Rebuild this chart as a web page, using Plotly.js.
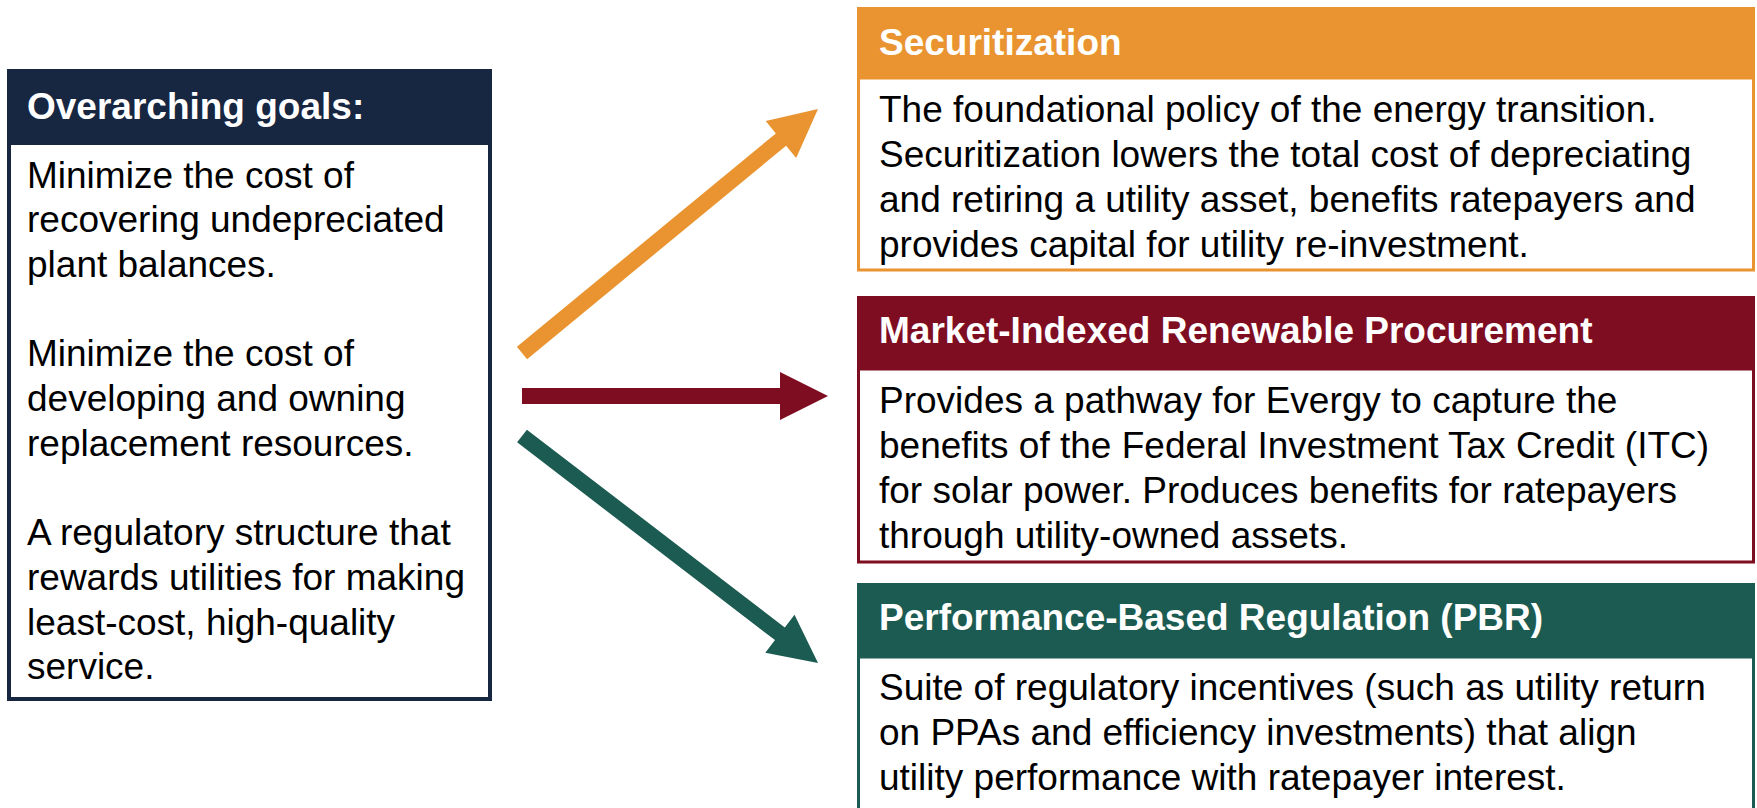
<!DOCTYPE html>
<html>
<head>
<meta charset="utf-8">
<script src="https://cdn.plot.ly/plotly-3.0.1.min.js"></script>
<style>html,body{margin:0;padding:0;background:#fff;}#chart{width:1757px;height:808px;}</style>
</head>
<body>
<div id="chart"></div>
<script>
// ---- content ----
const leftTitle = "Overarching goals:";
const leftLines = [
  "Minimize the cost of",
  "recovering undepreciated",
  "plant balances.",
  "",
  "Minimize the cost of",
  "developing and owning",
  "replacement resources.",
  "",
  "A regulatory structure that",
  "rewards utilities for making",
  "least-cost, high-quality",
  "service."
];
const boxTitles = [
  "Securitization",
  "Market-Indexed Renewable Procurement",
  "Performance-Based Regulation (PBR)"
];
const boxLines1 = [
  "The foundational policy of the energy transition.",
  "Securitization lowers the total cost of depreciating",
  "and retiring a utility asset, benefits ratepayers and",
  "provides capital for utility re-investment."
];
const boxLines2 = [
  "Provides a pathway for Evergy to capture the",
  "benefits of the Federal Investment Tax Credit (ITC)",
  "for solar power. Produces benefits for ratepayers",
  "through utility-owned assets."
];
const boxLines3 = [
  "Suite of regulatory incentives (such as utility return",
  "on PPAs and efficiency investments) that align",
  "utility performance with ratepayer interest."
];
const boxLines = [boxLines1, boxLines2, boxLines3];

// ---- styles / layout geometry ----
const navy = "#172641";
const boxColors = ["#E99430", "#7F0D21", "#1B5B51"];
const FONT = "Liberation Sans, Arial, sans-serif";
const FS = 37;
const W = 1757, H = 808;

const shapes = [];
const annotations = [];

function rect(x0, y0, x1, y1, fill, lineColor, lw) {
  shapes.push({type: "rect", xref: "x", yref: "y", x0, y0, x1, y1,
    fillcolor: fill, line: {color: lineColor || fill, width: lw || 0}, layer: "below"});
}
function text(t, x, baseline, bold, color) {
  if (!t) return;
  annotations.push({text: bold ? "<b>" + t + "</b>" : t, x: x, y: baseline - 0.35 * FS,
    xref: "x", yref: "y", xanchor: "left", yanchor: "middle", showarrow: false,
    borderpad: 0, font: {family: FONT, size: FS, color: color}});
}
function arrow(x0, y0, x1, y1, color) {
  const shaft = 16, headLen = 48, headW = 48;
  const dx = x1 - x0, dy = y1 - y0, L = Math.hypot(dx, dy);
  const ux = dx / L, uy = dy / L, px = -uy, py = ux;
  const bx = x1 - ux * headLen, by = y1 - uy * headLen;
  const pts = [
    [x0 + px * shaft / 2, y0 + py * shaft / 2],
    [bx + px * shaft / 2, by + py * shaft / 2],
    [bx + px * headW / 2, by + py * headW / 2],
    [x1, y1],
    [bx - px * headW / 2, by - py * headW / 2],
    [bx - px * shaft / 2, by - py * shaft / 2],
    [x0 - px * shaft / 2, y0 - py * shaft / 2]
  ];
  const path = "M " + pts.map(p => p[0].toFixed(1) + "," + p[1].toFixed(1)).join(" L ") + " Z";
  shapes.push({type: "path", xref: "x", yref: "y", path: path, fillcolor: color,
    line: {width: 0, color: color}, layer: "above"});
}

// left box
rect(9, 143, 490, 699, "#ffffff", navy, 4);
rect(7, 69, 492, 143, navy);
text(leftTitle, 26, 119, true, "#ffffff");
leftLines.forEach((l, i) => text(l, 26, 188 + i * 44.7, false, "#000000"));

// right boxes
const hdrTop = [7, 296, 583], hdrBot = [78, 369, 657], bodyBot = [270, 562, 840];
const hdrBase = [55, 343, 630], bodyBase = [122, 413, 700];
boxTitles.forEach((t, k) => {
  rect(858.5, hdrBot[k], 1753.5, bodyBot[k], "#ffffff", boxColors[k], 3);
  rect(857, hdrTop[k], 1755, hdrBot[k], boxColors[k]);
  text(t, 878, hdrBase[k], true, "#ffffff");
  boxLines[k].forEach((l, i) => text(l, 878, bodyBase[k] + i * 45, false, "#000000"));
});

// arrows
arrow(522, 353, 818, 109, boxColors[0]);
arrow(522, 396, 828, 396, boxColors[1]);
arrow(522, 436, 818, 663, boxColors[2]);

const layout = {
  width: W, height: H,
  margin: {l: 0, r: 0, t: 0, b: 0, pad: 0},
  paper_bgcolor: "#ffffff", plot_bgcolor: "#ffffff",
  showlegend: false,
  xaxis: {range: [0, W], visible: false, fixedrange: true},
  yaxis: {range: [H, 0], visible: false, fixedrange: true},
  shapes: shapes,
  annotations: annotations
};
Plotly.newPlot("chart", [], layout, {displayModeBar: false, staticPlot: true});
</script>
</body>
</html>
